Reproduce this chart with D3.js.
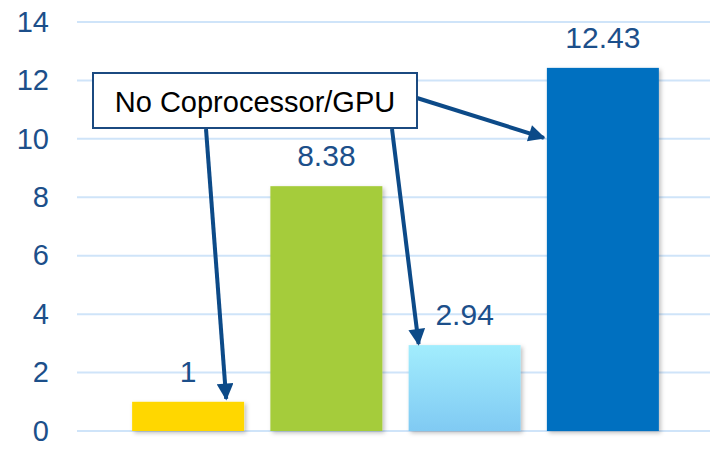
<!DOCTYPE html>
<html>
<head>
<meta charset="utf-8">
<script src="https://cdn.jsdelivr.net/npm/d3@7"></script>
<style>
  html, body { margin: 0; padding: 0; background: #ffffff; }
  svg { display: block; font-family: Arial, "Liberation Sans", sans-serif; }
</style>
</head>
<body>
<svg id="chart" width="710" height="452"></svg>
<script>
// Relative speed-up per configuration
const categories = ["A", "B", "C", "D"];
const values = [1, 8.38, 2.94, 12.43];
const valueLabels = ["1", "8.38", "2.94", "12.43"];
const barColors = ["#ffd700", "#a5cc3a", "url(#lightBlueGrad)", "#0070c0"];
const yTicks = [0, 2, 4, 6, 8, 10, 12, 14];
const noteText = "No Coprocessor/GPU";
// bars the callout points at
const noteTargets = [0, 2, 3];

const svg = d3.select("#chart");
const defs = svg.append("defs");

const grad = defs.append("linearGradient")
  .attr("id", "lightBlueGrad").attr("x1", 0).attr("y1", 0).attr("x2", 0).attr("y2", 1);
grad.append("stop").attr("offset", "0%").attr("stop-color", "#a2edfd");
grad.append("stop").attr("offset", "100%").attr("stop-color", "#80caf3");

const shadow = defs.append("filter").attr("id", "barShadow")
  .attr("x", "-10%").attr("y", "-10%").attr("width", "130%").attr("height", "130%");
shadow.append("feDropShadow").attr("dx", 2).attr("dy", 2).attr("stdDeviation", 2)
  .attr("flood-color", "#000").attr("flood-opacity", 0.25);

const arrowHead = defs.append("marker").attr("id", "arrowHead")
  .attr("viewBox", "0 0 10 10").attr("refX", 9).attr("refY", 5)
  .attr("markerWidth", 4.6).attr("markerHeight", 4.2).attr("orient", "auto")
  .attr("markerUnits", "strokeWidth");
arrowHead.append("path").attr("d", "M0,0 L10,5 L0,10 Z").attr("fill", "#0c4a88");

const y = d3.scaleLinear().domain([0, 14]).range([431, 22]);
const x = d3.scaleBand().domain(categories).range([119, 672]).paddingInner(0.19).paddingOuter(0.095);

// grid lines
svg.append("g").selectAll("line").data(yTicks).join("line")
  .attr("x1", 77).attr("x2", 710)
  .attr("y1", d => y(d)).attr("y2", d => y(d))
  .attr("stroke", "#cfe4f9").attr("stroke-width", 2);

// y axis labels
const yAxis = d3.axisLeft(y).tickValues(yTicks).tickSize(0).tickPadding(0).tickFormat(d3.format("d"));
svg.append("g").attr("transform", "translate(49,0)").call(yAxis)
  .call(g => g.select(".domain").remove())
  .call(g => g.selectAll("text")
    .attr("fill", "#1c4f8a").attr("font-size", 29).attr("font-family", "Arial, 'Liberation Sans', sans-serif"));

// bars
svg.append("g").selectAll("rect").data(values).join("rect")
  .attr("x", (d, i) => x(categories[i]))
  .attr("y", d => y(d))
  .attr("width", x.bandwidth())
  .attr("height", d => y(0) - y(d))
  .attr("fill", (d, i) => barColors[i])
  .attr("filter", "url(#barShadow)");

// value labels
svg.append("g").selectAll("text").data(values).join("text")
  .attr("x", (d, i) => x(categories[i]) + x.bandwidth() / 2)
  .attr("y", d => y(d) - 20)
  .attr("text-anchor", "middle")
  .attr("fill", "#1c4f8a").attr("font-size", 30)
  .text((d, i) => valueLabels[i]);

// callout arrows
const arrows = [
  { from: [206, 129], to: [x(categories[noteTargets[0]]) + x.bandwidth() * 0.84, y(values[noteTargets[0]]) - 3] },
  { from: [392, 129], to: [x(categories[noteTargets[1]]) + 10, y(values[noteTargets[1]]) - 1] },
  { from: [417, 98], to: [x(categories[noteTargets[2]]) - 3, y(10) - 1] }
];
svg.append("g").selectAll("line").data(arrows).join("line")
  .attr("x1", d => d.from[0]).attr("y1", d => d.from[1])
  .attr("x2", d => d.to[0]).attr("y2", d => d.to[1])
  .attr("stroke", "#0c4a88").attr("stroke-width", 4)
  .attr("marker-end", "url(#arrowHead)");

// callout box
const note = svg.append("g");
note.append("rect").attr("x", 93).attr("y", 73).attr("width", 324).attr("height", 55)
  .attr("fill", "#ffffff").attr("stroke", "#1b4a80").attr("stroke-width", 2);
note.append("text").attr("x", 255).attr("y", 112).attr("text-anchor", "middle")
  .attr("fill", "#000000").attr("font-size", 29).text(noteText);
</script>
</body>
</html>
